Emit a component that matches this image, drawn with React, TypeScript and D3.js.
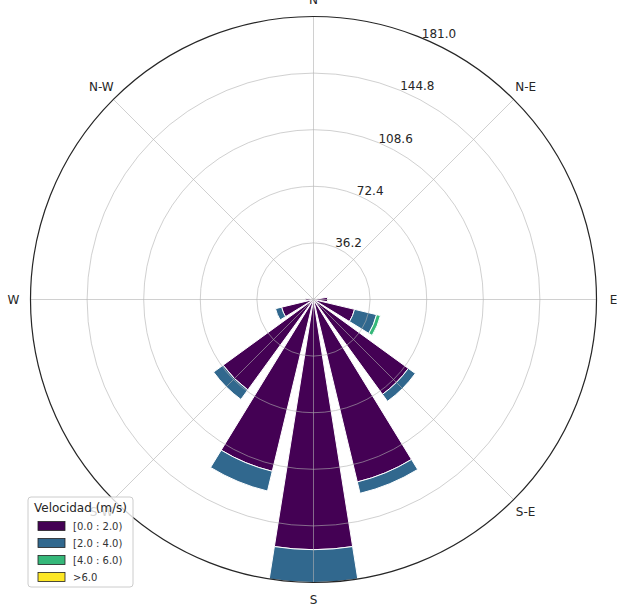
import React from "react";
import * as d3 from "d3";

const directions = ["N","NNE","NE","ENE","E","ESE","SE","SSE","S","SSW","SW","WSW","W","WNW","NW","NNW"];
const speed0to2 = [0.6, 0.6, 0.6, 1.5, 9, 27, 75, 120, 160, 113, 71.5, 21, 5, 1.5, 0.6, 0.6];
const speed2to4 = [0, 0, 0, 0, 0, 14.5, 5.5, 7.5, 21, 13, 7.5, 4, 0, 0, 0, 0];
const speed4to6 = [0, 0, 0, 0, 0, 2.5, 0, 0, 0, 0, 0, 0, 0, 0, 0, 0];
const speedOver6 = [0, 0, 0, 0, 0, 0, 0, 0, 0, 0, 0, 0, 0, 0, 0, 0];
const binLabels = ["[0.0 : 2.0)", "[2.0 : 4.0)", "[4.0 : 6.0)", ">6.0"];
const radialTicks = [36.2, 72.4, 108.6, 144.8, 181.0];
const compassLabels = ["N", "N-E", "E", "S-E", "S", "S-W", "W", "N-W"];
const rMax = 181.0;

export default function App() {
  const W = 617, H = 605;
  const cx = 313.5, cy = 299.5, R = 283;
  const r = d3.scaleLinear().domain([0, rMax]).range([0, R]);
  const colors = [0, 1 / 3, 2 / 3, 1].map((t) => d3.interpolateViridis(t));
  const series = [speed0to2, speed2to4, speed4to6, speedOver6];
  const sector = (2 * Math.PI) / directions.length;
  const opening = sector * 0.8;
  const arc = d3.arc<any>();
  const font = "DejaVu Sans, sans-serif";

  const bars: any[] = [];
  directions.forEach((d, i) => {
    let base = 0;
    series.forEach((s, k) => {
      const v = s[i];
      if (v > 0) {
        const a = i * sector;
        const p = arc({
          innerRadius: r(base),
          outerRadius: r(base + v),
          startAngle: a - opening / 2,
          endAngle: a + opening / 2,
        });
        bars.push(<path key={`${d}-${k}`} d={p || ""} fill={colors[k]} stroke="#ffffff" strokeWidth={1} />);
      }
      base += v;
    });
  });

  const pt = (deg: number, rad: number) => {
    const a = (deg * Math.PI) / 180;
    return [cx + rad * Math.sin(a), cy - rad * Math.cos(a)];
  };

  return (
    <svg width={W} height={H} style={{ position: "absolute", left: 0, top: 0, background: "#fff" }}>
      <g transform={`translate(${cx},${cy})`}>{bars}</g>
      {radialTicks.slice(0, -1).map((t) => (
        <circle key={t} cx={cx} cy={cy} r={r(t)} fill="none" stroke="#b0b0b0" strokeOpacity={0.6} strokeWidth={1} />
      ))}
      {d3.range(8).map((i) => {
        const [x, y] = pt(i * 45, R);
        return <line key={i} x1={cx} y1={cy} x2={x} y2={y} stroke="#b0b0b0" strokeOpacity={0.6} strokeWidth={1} />;
      })}
      <circle cx={cx} cy={cy} r={R} fill="none" stroke="#262626" strokeWidth={1.2} />
      {radialTicks.map((t) => {
        const [x, y] = pt(22.5, r(t));
        return (
          <text key={t} x={x} y={y} fontFamily={font} fontSize={12} fill="#262626" textAnchor="start">
            {t.toFixed(1)}
          </text>
        );
      })}
      {compassLabels.map((lab, i) => {
        const [x, y] = pt(i * 45, 300);
        return (
          <text key={lab} x={x} y={y} fontFamily={font} fontSize={12} fill="#262626" textAnchor="middle" dominantBaseline="central">
            {lab}
          </text>
        );
      })}
      <g>
        <rect x={28} y={497} width={105} height={90} rx={3} fill="#ffffff" fillOpacity={0.8} stroke="#cccccc" strokeWidth={1} />
        <text x={80.5} y={512} fontFamily={font} fontSize={12} fill="#262626" textAnchor="middle">
          Velocidad (m/s)
        </text>
        {binLabels.map((lab, k) => {
          const yc = 526 + k * 17;
          return (
            <g key={lab}>
              <rect x={38} y={yc - 4.5} width={27} height={9} fill={colors[k]} stroke="#222" strokeWidth={0.8} />
              <text x={73} y={yc} fontFamily={font} fontSize={10} fill="#333" dominantBaseline="central">
                {lab}
              </text>
            </g>
          );
        })}
      </g>
    </svg>
  );
}
